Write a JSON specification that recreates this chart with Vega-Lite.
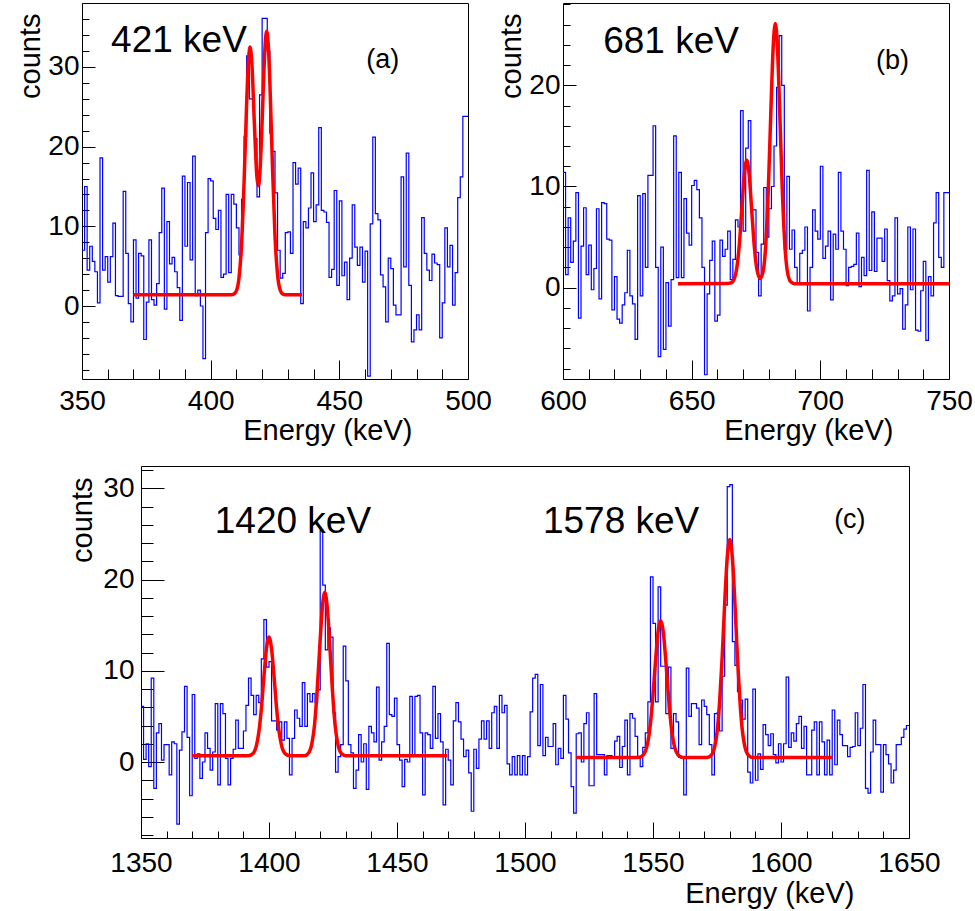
{
"$schema": "https://vega.github.io/schema/vega-lite/v6.json",
"background": "white",
"padding": {"left": 15, "top": 2, "right": 0, "bottom": 0},
"config": {
  "view": {"stroke": "black", "strokeWidth": 1},
  "axis": {"labelFont": "Liberation Sans", "titleFont": "Liberation Sans", "labelFontSize": 28, "titleFontSize": 29, "titleFontWeight": "normal", "labelColor": "black", "titleColor": "black", "tickColor": "black", "tickWidth": 1, "grid": false, "domain": false, "labelFlush": false, "labelOverlap": false, "format": "d"}
},
"datasets": {
  "ha": [{"e":350,"c":7},{"e":351,"c":15},{"e":352,"c":4.5},{"e":353,"c":7.5},{"e":354,"c":5.6},{"e":355,"c":4.3},{"e":356,"c":0.4},{"e":357,"c":18.6},{"e":358,"c":4.5},{"e":359,"c":6.2},{"e":360,"c":3},{"e":361,"c":6.2},{"e":362,"c":10.4},{"e":363,"c":1.3},{"e":364,"c":1.2},{"e":365,"c":1.2},{"e":366,"c":14.4},{"e":367,"c":6.6},{"e":368,"c":0.3},{"e":369,"c":-2},{"e":370,"c":8.3},{"e":371,"c":1},{"e":372,"c":6.6},{"e":373,"c":6.3},{"e":374,"c":-4.2},{"e":375,"c":0.5},{"e":376,"c":8.3},{"e":377,"c":0.8},{"e":378,"c":0.1},{"e":379,"c":2.8},{"e":380,"c":9.2},{"e":381,"c":14.8},{"e":382,"c":-0.4},{"e":383,"c":10.6},{"e":384,"c":5.3},{"e":385,"c":6.1},{"e":386,"c":4.3},{"e":387,"c":2.3},{"e":388,"c":-1.8},{"e":389,"c":16.3},{"e":390,"c":7.5},{"e":391,"c":15.5},{"e":392,"c":5.8},{"e":393,"c":18.8},{"e":394,"c":1.3},{"e":395,"c":2},{"e":396,"c":0},{"e":397,"c":-6.6},{"e":398,"c":9.2},{"e":399,"c":16},{"e":400,"c":15.7},{"e":401,"c":11},{"e":402,"c":9.6},{"e":403,"c":12},{"e":404,"c":3.6},{"e":405,"c":4},{"e":406,"c":14},{"e":407,"c":4.2},{"e":408,"c":14},{"e":409,"c":12.8},{"e":410,"c":9.8},{"e":411,"c":6.4},{"e":412,"c":13.4},{"e":413,"c":21.3},{"e":414,"c":31.4},{"e":415,"c":26},{"e":416,"c":26},{"e":417,"c":21},{"e":418,"c":13.7},{"e":419,"c":26.5},{"e":420,"c":36.1},{"e":421,"c":36.1},{"e":422,"c":32},{"e":423,"c":21.7},{"e":424,"c":19.4},{"e":425,"c":14.2},{"e":426,"c":7},{"e":427,"c":3.5},{"e":428,"c":4.1},{"e":429,"c":9.2},{"e":430,"c":9.3},{"e":431,"c":6.6},{"e":432,"c":18},{"e":433,"c":15.3},{"e":434,"c":17.3},{"e":435,"c":0.3},{"e":436,"c":10.6},{"e":437,"c":9.8},{"e":438,"c":12.3},{"e":439,"c":16.7},{"e":440,"c":10.6},{"e":441,"c":12.7},{"e":442,"c":22.4},{"e":443,"c":12},{"e":444,"c":11.8},{"e":445,"c":10.5},{"e":446,"c":3.6},{"e":447,"c":4.6},{"e":448,"c":14.5},{"e":449,"c":2.6},{"e":450,"c":13.2},{"e":451,"c":3.8},{"e":452,"c":5.5},{"e":453,"c":0.8},{"e":454,"c":6},{"e":455,"c":12.7},{"e":456,"c":7.4},{"e":457,"c":5.1},{"e":458,"c":7.4},{"e":459,"c":3},{"e":460,"c":6.9},{"e":461,"c":-8.8},{"e":462,"c":10.3},{"e":463,"c":21.2},{"e":464,"c":11.6},{"e":465,"c":10.8},{"e":466,"c":3.9},{"e":467,"c":2.4},{"e":468,"c":-2},{"e":469,"c":6},{"e":470,"c":4.7},{"e":471,"c":0.1},{"e":472,"c":-1.1},{"e":473,"c":-1.1},{"e":474,"c":16.2},{"e":475,"c":4.9},{"e":476,"c":19.2},{"e":477,"c":2.6},{"e":478,"c":-4.5},{"e":479,"c":-3},{"e":480,"c":-1.1},{"e":481,"c":-3},{"e":482,"c":11.1},{"e":483,"c":6.6},{"e":484,"c":4.5},{"e":485,"c":3.2},{"e":486,"c":6.5},{"e":487,"c":5.4},{"e":488,"c":5.2},{"e":489,"c":-4},{"e":490,"c":0.4},{"e":491,"c":9.8},{"e":492,"c":4.9},{"e":493,"c":7.6},{"e":494,"c":0.1},{"e":495,"c":4.2},{"e":496,"c":13.6},{"e":497,"c":16.2},{"e":498,"c":23.8},{"e":499,"c":23.8},{"e":500,"c":23.8}],
  "fa": [{"e":370,"c":1.4},{"e":408,"c":1.4},{"e":409,"c":1.5},{"e":410,"c":1.9},{"e":411,"c":3.5},{"e":412,"c":7.7},{"e":413,"c":15.7},{"e":414,"c":25.6},{"e":414.7,"c":30.8},{"e":415.3,"c":32.5},{"e":416,"c":30.5},{"e":417,"c":22.8},{"e":418,"c":16.1},{"e":418.6,"c":15.1},{"e":419.2,"c":17.1},{"e":420,"c":23.2},{"e":420.7,"c":29.5},{"e":421.2,"c":32.9},{"e":421.8,"c":34.5},{"e":422.4,"c":32.7},{"e":423,"c":28.1},{"e":424,"c":17.7},{"e":425,"c":8.8},{"e":426,"c":3.9},{"e":427,"c":2.0},{"e":428,"c":1.5},{"e":429,"c":1.4},{"e":435.5,"c":1.4}],
  "hb": [{"e":600,"c":11.4},{"e":601,"c":1.3},{"e":602,"c":6.9},{"e":603,"c":2.5},{"e":604,"c":4.6},{"e":605,"c":9.4},{"e":606,"c":-3},{"e":607,"c":4.1},{"e":608,"c":7.9},{"e":609,"c":1.3},{"e":610,"c":4.2},{"e":611,"c":-0.2},{"e":612,"c":1.9},{"e":613,"c":7.8},{"e":614,"c":-1.1},{"e":615,"c":8.4},{"e":616,"c":8.3},{"e":617,"c":4.8},{"e":618,"c":4.7},{"e":619,"c":-2.2},{"e":620,"c":1.1},{"e":621,"c":-3.1},{"e":622,"c":-3.5},{"e":623,"c":-1.7},{"e":624,"c":-0.5},{"e":625,"c":3.7},{"e":626,"c":-0.8},{"e":627,"c":-1.6},{"e":628,"c":-5.1},{"e":629,"c":9.1},{"e":630,"c":-0.8},{"e":631,"c":9.3},{"e":632,"c":2},{"e":633,"c":11.1},{"e":634,"c":11.1},{"e":635,"c":16},{"e":636,"c":2},{"e":637,"c":-6.8},{"e":638,"c":4},{"e":639,"c":-6.1},{"e":640,"c":0.5},{"e":641,"c":-3.8},{"e":642,"c":0.8},{"e":643,"c":15},{"e":644,"c":1},{"e":645,"c":11.4},{"e":646,"c":1},{"e":647,"c":8.8},{"e":648,"c":5.4},{"e":649,"c":4.2},{"e":650,"c":10.1},{"e":651,"c":10.6},{"e":652,"c":9.7},{"e":653,"c":6.9},{"e":654,"c":2},{"e":655,"c":-8.6},{"e":656,"c":-0.6},{"e":657,"c":2.7},{"e":658,"c":4.6},{"e":659,"c":-3.3},{"e":660,"c":-2.7},{"e":661,"c":4.7},{"e":662,"c":3.1},{"e":663,"c":3.8},{"e":664,"c":5.6},{"e":665,"c":0.8},{"e":666,"c":2.8},{"e":667,"c":6.7},{"e":668,"c":6},{"e":669,"c":17.5},{"e":670,"c":5.6},{"e":671,"c":13.8},{"e":672,"c":16.5},{"e":673,"c":7.7},{"e":674,"c":7.7},{"e":675,"c":3.5},{"e":676,"c":-0.8},{"e":677,"c":4.3},{"e":678,"c":9.9},{"e":679,"c":5},{"e":680,"c":7.8},{"e":681,"c":10},{"e":682,"c":14},{"e":683,"c":19.8},{"e":684,"c":24.9},{"e":685,"c":20},{"e":686,"c":3.8},{"e":687,"c":11},{"e":688,"c":3.8},{"e":689,"c":5.7},{"e":690,"c":2},{"e":691,"c":0.5},{"e":692,"c":3.4},{"e":693,"c":3.7},{"e":694,"c":6},{"e":695,"c":-2.3},{"e":696,"c":2},{"e":697,"c":7.7},{"e":698,"c":5.6},{"e":699,"c":4.8},{"e":700,"c":12},{"e":701,"c":2.9},{"e":702,"c":4.1},{"e":703,"c":5.6},{"e":704,"c":-1.2},{"e":705,"c":5.3},{"e":706,"c":3.8},{"e":707,"c":11.4},{"e":708,"c":5.6},{"e":709,"c":3.8},{"e":710,"c":0.2},{"e":711,"c":2},{"e":712,"c":2.1},{"e":713,"c":2.3},{"e":714,"c":5.4},{"e":715,"c":0.1},{"e":716,"c":3},{"e":717,"c":1.2},{"e":718,"c":11.6},{"e":719,"c":1.7},{"e":720,"c":7.5},{"e":721,"c":1.6},{"e":722,"c":4.9},{"e":723,"c":4.9},{"e":724,"c":2.6},{"e":725,"c":5.8},{"e":726,"c":0.7},{"e":727,"c":-1.3},{"e":728,"c":-0.8},{"e":729,"c":6.9},{"e":730,"c":-0.6},{"e":731,"c":-0.1},{"e":732,"c":-4.1},{"e":733,"c":-1.7},{"e":734,"c":6},{"e":735,"c":-0.2},{"e":736,"c":5.8},{"e":737,"c":-4.2},{"e":738,"c":-4.3},{"e":739,"c":-0.3},{"e":740,"c":2.6},{"e":741,"c":-5.2},{"e":742,"c":1.1},{"e":743,"c":-0.8},{"e":744,"c":6.4},{"e":745,"c":9.4},{"e":746,"c":3},{"e":747,"c":2},{"e":748,"c":9.4},{"e":749,"c":9.4},{"e":750,"c":9.4}],
  "fb": [{"e":644.7,"c":0.4},{"e":664,"c":0.41},{"e":665.5,"c":0.5},{"e":666.5,"c":0.84},{"e":667.5,"c":1.9},{"e":668.5,"c":4.2},{"e":669.5,"c":7.8},{"e":670.5,"c":11.3},{"e":671.4,"c":12.6},{"e":672.3,"c":11.3},{"e":673.3,"c":7.8},{"e":674.3,"c":4.2},{"e":675.3,"c":1.9},{"e":676.6,"c":0.9},{"e":677.8,"c":1.65},{"e":678.8,"c":4.3},{"e":679.8,"c":9.8},{"e":680.8,"c":17.6},{"e":681.7,"c":23.9},{"e":682.5,"c":26.1},{"e":683.3,"c":23.9},{"e":684.2,"c":17.6},{"e":685.2,"c":9.8},{"e":686.2,"c":4.3},{"e":687.2,"c":1.6},{"e":688.5,"c":0.58},{"e":690,"c":0.4},{"e":750,"c":0.4}],
  "hc": [{"e":1350,"c":6.1},{"e":1351,"c":0.3},{"e":1352,"c":2},{"e":1353,"c":-0.5},{"e":1354,"c":9.2},{"e":1355,"c":-2.9},{"e":1356,"c":3.2},{"e":1357,"c":4.2},{"e":1358,"c":0.2},{"e":1359,"c":1.9},{"e":1360,"c":1.9},{"e":1361,"c":-1.4},{"e":1362,"c":2.2},{"e":1363,"c":2},{"e":1364,"c":-6.8},{"e":1365,"c":1.3},{"e":1366,"c":3.3},{"e":1367,"c":8.3},{"e":1368,"c":2.7},{"e":1369,"c":-3.7},{"e":1370,"c":7.4},{"e":1371,"c":0.4},{"e":1372,"c":0.9},{"e":1373,"c":-1.8},{"e":1374,"c":0},{"e":1375,"c":3.2},{"e":1376,"c":1.5},{"e":1377,"c":-0.9},{"e":1378,"c":1.1},{"e":1379,"c":6.4},{"e":1380,"c":-2.5},{"e":1381,"c":6.4},{"e":1382,"c":5.3},{"e":1383,"c":0.4},{"e":1384,"c":-2.5},{"e":1385,"c":0.4},{"e":1386,"c":1.4},{"e":1387,"c":4.6},{"e":1388,"c":1.5},{"e":1389,"c":1.5},{"e":1390,"c":3.4},{"e":1391,"c":6.2},{"e":1392,"c":9.2},{"e":1393,"c":7.3},{"e":1394,"c":5.2},{"e":1395,"c":7.3},{"e":1396,"c":6.5},{"e":1397,"c":11.3},{"e":1398,"c":15.6},{"e":1399,"c":10.4},{"e":1400,"c":11},{"e":1401,"c":4.5},{"e":1402,"c":4.5},{"e":1403,"c":3.5},{"e":1404,"c":4.4},{"e":1405,"c":2.4},{"e":1406,"c":4.4},{"e":1407,"c":2.6},{"e":1408,"c":-1.4},{"e":1409,"c":2.6},{"e":1410,"c":5.7},{"e":1411,"c":4.8},{"e":1412,"c":3.9},{"e":1413,"c":8.7},{"e":1414,"c":3.9},{"e":1415,"c":7.5},{"e":1416,"c":6.6},{"e":1417,"c":7.5},{"e":1418,"c":6.5},{"e":1419,"c":7.9},{"e":1420,"c":25.4},{"e":1421,"c":19.4},{"e":1422,"c":12.3},{"e":1423,"c":14.7},{"e":1424,"c":13.7},{"e":1425,"c":5.4},{"e":1426,"c":-1.1},{"e":1427,"c":0.6},{"e":1428,"c":1.9},{"e":1429,"c":12.7},{"e":1430,"c":8.9},{"e":1431,"c":1.9},{"e":1432,"c":1},{"e":1433,"c":-2.9},{"e":1434,"c":-0.9},{"e":1435,"c":3},{"e":1436,"c":0},{"e":1437,"c":2},{"e":1438,"c":-3},{"e":1439,"c":3.9},{"e":1440,"c":3.2},{"e":1441,"c":2.2},{"e":1442,"c":8.2},{"e":1443,"c":0.2},{"e":1444,"c":2.2},{"e":1445,"c":3.9},{"e":1446,"c":13},{"e":1447,"c":5.2},{"e":1448,"c":5},{"e":1449,"c":7},{"e":1450,"c":1.9},{"e":1451,"c":0.2},{"e":1452,"c":-2.7},{"e":1453,"c":0.3},{"e":1454,"c":0},{"e":1455,"c":7.2},{"e":1456,"c":0.8},{"e":1457,"c":7.2},{"e":1458,"c":7.3},{"e":1459,"c":3.2},{"e":1460,"c":-3.6},{"e":1461,"c":3.2},{"e":1462,"c":3},{"e":1463,"c":1.5},{"e":1464,"c":8.3},{"e":1465,"c":2.6},{"e":1466,"c":5.3},{"e":1467,"c":2.2},{"e":1468,"c":-4.7},{"e":1469,"c":1.4},{"e":1470,"c":0.2},{"e":1471,"c":-2.5},{"e":1472,"c":4.5},{"e":1473,"c":6.5},{"e":1474,"c":4.4},{"e":1475,"c":2.5},{"e":1476,"c":0.6},{"e":1477,"c":1.3},{"e":1478,"c":-1.2},{"e":1479,"c":-5.4},{"e":1480,"c":1.4},{"e":1481,"c":-0.7},{"e":1482,"c":2.5},{"e":1483,"c":4.5},{"e":1484,"c":2.5},{"e":1485,"c":4.5},{"e":1486,"c":1.5},{"e":1487,"c":5.4},{"e":1488,"c":6.1},{"e":1489,"c":1.5},{"e":1490,"c":7.3},{"e":1491,"c":5.4},{"e":1492,"c":6.2},{"e":1493,"c":-0.2},{"e":1494,"c":-1.4},{"e":1495,"c":0.6},{"e":1496,"c":-1.4},{"e":1497,"c":0.7},{"e":1498,"c":-1.4},{"e":1499,"c":0.7},{"e":1500,"c":-1.4},{"e":1501,"c":0.6},{"e":1502,"c":5.5},{"e":1503,"c":9.2},{"e":1504,"c":9.6},{"e":1505,"c":1.8},{"e":1506,"c":8.5},{"e":1507,"c":0.7},{"e":1508,"c":2.7},{"e":1509,"c":1.7},{"e":1510,"c":1.7},{"e":1511,"c":4.2},{"e":1512,"c":-0.3},{"e":1513,"c":1.5},{"e":1514,"c":0.4},{"e":1515,"c":7.3},{"e":1516,"c":4.7},{"e":1517,"c":1},{"e":1518,"c":-2.7},{"e":1519,"c":-5.6},{"e":1520,"c":3.1},{"e":1521,"c":3.2},{"e":1522,"c":0},{"e":1523,"c":4.2},{"e":1524,"c":5.4},{"e":1525,"c":-2.6},{"e":1526,"c":-2.6},{"e":1527,"c":7.5},{"e":1528,"c":0.8},{"e":1529,"c":0.8},{"e":1530,"c":0.8},{"e":1531,"c":-1.4},{"e":1532,"c":0.7},{"e":1533,"c":0.7},{"e":1534,"c":0.6},{"e":1535,"c":2.3},{"e":1536,"c":2.8},{"e":1537,"c":-0.6},{"e":1538,"c":1.7},{"e":1539,"c":4.6},{"e":1540,"c":-1.4},{"e":1541,"c":5.3},{"e":1542,"c":4.8},{"e":1543,"c":2.8},{"e":1544,"c":0.6},{"e":1545,"c":-0.5},{"e":1546,"c":1.6},{"e":1547,"c":3.2},{"e":1548,"c":6.6},{"e":1549,"c":20.3},{"e":1550,"c":15.2},{"e":1551,"c":6.6},{"e":1552,"c":19.2},{"e":1553,"c":10.5},{"e":1554,"c":10.5},{"e":1555,"c":5.3},{"e":1556,"c":10.4},{"e":1557,"c":1.5},{"e":1558,"c":5.3},{"e":1559,"c":4.4},{"e":1560,"c":0.5},{"e":1561,"c":0.4},{"e":1562,"c":-3.6},{"e":1563,"c":10.3},{"e":1564,"c":5},{"e":1565,"c":6.4},{"e":1566,"c":6.4},{"e":1567,"c":5.9},{"e":1568,"c":1.9},{"e":1569,"c":6.8},{"e":1570,"c":6.1},{"e":1571,"c":5.2},{"e":1572,"c":1.9},{"e":1573,"c":-1.4},{"e":1574,"c":5.3},{"e":1575,"c":5.4},{"e":1576,"c":3.4},{"e":1577,"c":9.4},{"e":1578,"c":17.2},{"e":1579,"c":30.2},{"e":1580,"c":30.4},{"e":1581,"c":13.2},{"e":1582,"c":10.6},{"e":1583,"c":7.7},{"e":1584,"c":6.8},{"e":1585,"c":4.7},{"e":1586,"c":6.9},{"e":1587,"c":-1.1},{"e":1588,"c":-2.3},{"e":1589,"c":8},{"e":1590,"c":-2},{"e":1591,"c":0.9},{"e":1592,"c":-0.8},{"e":1593,"c":4.1},{"e":1594,"c":3},{"e":1595,"c":1.8},{"e":1596,"c":3.1},{"e":1597,"c":0.8},{"e":1598,"c":-0.1},{"e":1599,"c":2},{"e":1600,"c":0},{"e":1601,"c":2},{"e":1602,"c":9.3},{"e":1603,"c":1.6},{"e":1604,"c":3.2},{"e":1605,"c":2.3},{"e":1606,"c":4.2},{"e":1607,"c":5},{"e":1608,"c":1.5},{"e":1609,"c":3.9},{"e":1610,"c":-1.4},{"e":1611,"c":-1.4},{"e":1612,"c":3.5},{"e":1613,"c":4.4},{"e":1614,"c":-1.4},{"e":1615,"c":4.4},{"e":1616,"c":2.2},{"e":1617,"c":-1.4},{"e":1618,"c":2.4},{"e":1619,"c":-1.4},{"e":1620,"c":5.7},{"e":1621,"c":-0.3},{"e":1622,"c":4.6},{"e":1623,"c":3},{"e":1624,"c":1.8},{"e":1625,"c":1.8},{"e":1626,"c":0.6},{"e":1627,"c":1.6},{"e":1628,"c":1.7},{"e":1629,"c":5.4},{"e":1630,"c":1.8},{"e":1631,"c":3.7},{"e":1632,"c":8.5},{"e":1633,"c":-2.9},{"e":1634,"c":-3.4},{"e":1635,"c":1.1},{"e":1636,"c":4.6},{"e":1637,"c":1.9},{"e":1638,"c":1.9},{"e":1639,"c":-3.3},{"e":1640,"c":1.9},{"e":1641,"c":0.8},{"e":1642,"c":-0.2},{"e":1643,"c":-2.3},{"e":1644,"c":-0.9},{"e":1645,"c":1.9},{"e":1646,"c":1.9},{"e":1647,"c":2.7},{"e":1648,"c":3.6},{"e":1649,"c":4},{"e":1650,"c":4}],
  "fc": [{"g":1,"e":1370,"c":0.7},{"g":1,"e":1392,"c":0.7},{"g":1,"e":1393.5,"c":0.87},{"g":1,"e":1395,"c":1.7},{"g":1,"e":1396,"c":3.2},{"g":1,"e":1397,"c":5.8},{"g":1,"e":1398,"c":9.3},{"g":1,"e":1399,"c":12.4},{"g":1,"e":1400,"c":13.7},{"g":1,"e":1401,"c":12.4},{"g":1,"e":1402,"c":9.3},{"g":1,"e":1403,"c":5.8},{"g":1,"e":1404,"c":3.2},{"g":1,"e":1405,"c":1.7},{"g":1,"e":1406.5,"c":0.87},{"g":1,"e":1408,"c":0.7},{"g":1,"e":1414,"c":0.7},{"g":1,"e":1415.3,"c":0.93},{"g":1,"e":1416.8,"c":2.1},{"g":1,"e":1417.8,"c":4.1},{"g":1,"e":1418.8,"c":7.8},{"g":1,"e":1419.8,"c":12.5},{"g":1,"e":1420.8,"c":16.8},{"g":1,"e":1421.8,"c":18.6},{"g":1,"e":1422.8,"c":16.8},{"g":1,"e":1423.8,"c":12.5},{"g":1,"e":1424.8,"c":7.8},{"g":1,"e":1425.8,"c":4.1},{"g":1,"e":1426.8,"c":2.1},{"g":1,"e":1428.3,"c":0.93},{"g":1,"e":1430,"c":0.7},{"g":1,"e":1469.6,"c":0.7},
         {"g":2,"e":1520,"c":0.5},{"g":2,"e":1544,"c":0.5},{"g":2,"e":1545.5,"c":0.61},{"g":2,"e":1547,"c":1.16},{"g":2,"e":1548,"c":2.2},{"g":2,"e":1549,"c":4.2},{"g":2,"e":1550,"c":7.4},{"g":2,"e":1551,"c":11.1},{"g":2,"e":1552,"c":14.3},{"g":2,"e":1553,"c":15.5},{"g":2,"e":1554,"c":14.3},{"g":2,"e":1555,"c":11.1},{"g":2,"e":1556,"c":7.4},{"g":2,"e":1557,"c":4.2},{"g":2,"e":1558,"c":2.2},{"g":2,"e":1559,"c":1.16},{"g":2,"e":1560.5,"c":0.61},{"g":2,"e":1562,"c":0.5},{"g":2,"e":1571,"c":0.5},{"g":2,"e":1572.5,"c":0.68},{"g":2,"e":1574,"c":1.55},{"g":2,"e":1575,"c":3.2},{"g":2,"e":1576,"c":6.5},{"g":2,"e":1577,"c":11.4},{"g":2,"e":1578,"c":17.4},{"g":2,"e":1579,"c":22.4},{"g":2,"e":1580,"c":24.4},{"g":2,"e":1581,"c":22.4},{"g":2,"e":1582,"c":17.4},{"g":2,"e":1583,"c":11.4},{"g":2,"e":1584,"c":6.5},{"g":2,"e":1585,"c":3.2},{"g":2,"e":1586,"c":1.55},{"g":2,"e":1587.5,"c":0.68},{"g":2,"e":1589,"c":0.5},{"g":2,"e":1620,"c":0.5}],
  "ta1": [{"e":361.3,"c":31.9,"t":"421 keV"}],
  "ta2": [{"e":466.9,"c":29.9,"t":"(a)"}],
  "tb1": [{"e":615.6,"c":23.2,"t":"681 keV"}],
  "tb2": [{"e":728,"c":21.6,"t":"(b)"}],
  "tc1": [{"e":1378.8,"c":25.1,"t":"1420 keV"},{"e":1507,"c":25.1,"t":"1578 keV"}],
  "tc2": [{"e":1626.9,"c":25.7,"t":"(c)"}]
},
"spacing": 14,
"vconcat": [
 {"hconcat": [
  {"width": 386, "height": 376,
   "layer": [
    {"data": {"name": "ha"}, "mark": {"type": "line", "interpolate": "step-after", "color": "#0000ff", "strokeWidth": 1.2},
     "encoding": {
      "x": {"field": "e", "type": "quantitative", "scale": {"domain": [350, 500], "nice": false, "zero": false},
            "axis": {"orient": "bottom", "values": [350, 400, 450, 500], "tickSize": -19, "labelPadding": 27, "title": "Energy (keV)", "titleX": 330, "titleY": 60, "titleAlign": "right", "titleBaseline": "alphabetic"}},
      "y": {"field": "c", "type": "quantitative", "scale": {"domain": [-9.16, 38.03], "nice": false, "zero": false},
            "axis": {"orient": "left", "values": [0, 10, 20, 30], "tickSize": -13, "labelPadding": 16, "title": "counts", "titleX": -43, "titleY": 10, "titleAngle": 270, "titleAlign": "right", "titleBaseline": "alphabetic"}}
     }},
    {"data": {"name": "fa"}, "mark": {"type": "line", "interpolate": "monotone", "color": "#ff0000", "strokeWidth": 3.5},
     "encoding": {
      "x": {"field": "e", "type": "quantitative", "axis": {"orient": "bottom", "values": [360,370,380,390,410,420,430,440,460,470,480,490], "tickSize": -10, "labels": false, "title": null}},
      "y": {"field": "c", "type": "quantitative", "axis": {"orient": "left", "values": [-8,-6,-4,-2,2,4,6,8,12,14,16,18,22,24,26,28,32,34,36,38], "tickSize": -7, "labels": false, "title": null}}
     }},
    {"data": {"name": "ta1"}, "mark": {"type": "text", "font": "Liberation Sans", "fontSize": 37, "align": "left", "baseline": "alphabetic", "color": "black"},
     "encoding": {"x": {"field": "e", "type": "quantitative", "axis": null}, "y": {"field": "c", "type": "quantitative", "axis": null}, "text": {"field": "t"}}},
    {"data": {"name": "ta2"}, "mark": {"type": "text", "font": "Liberation Sans", "fontSize": 27, "align": "center", "baseline": "alphabetic", "color": "black"},
     "encoding": {"x": {"field": "e", "type": "quantitative", "axis": null}, "y": {"field": "c", "type": "quantitative", "axis": null}, "text": {"field": "t"}}}
   ],
   "resolve": {"axis": {"x": "independent", "y": "independent"}}
  },
  {"width": 386, "height": 376,
   "layer": [
    {"data": {"name": "hb"}, "mark": {"type": "line", "interpolate": "step-after", "color": "#0000ff", "strokeWidth": 1.2},
     "encoding": {
      "x": {"field": "e", "type": "quantitative", "scale": {"domain": [600, 750], "nice": false, "zero": false},
            "axis": {"orient": "bottom", "values": [600, 650, 700, 750], "tickSize": -19, "labelPadding": 27, "title": "Energy (keV)", "titleX": 330, "titleY": 60, "titleAlign": "right", "titleBaseline": "alphabetic"}},
      "y": {"field": "c", "type": "quantitative", "scale": {"domain": [-9.02, 28.13], "nice": false, "zero": false},
            "axis": {"orient": "left", "values": [0, 10, 20], "tickSize": -13, "labelPadding": 16, "title": "counts", "titleX": -43, "titleY": 10, "titleAngle": 270, "titleAlign": "right", "titleBaseline": "alphabetic"}}
     }},
    {"data": {"name": "fb"}, "mark": {"type": "line", "interpolate": "monotone", "color": "#ff0000", "strokeWidth": 3.5},
     "encoding": {
      "x": {"field": "e", "type": "quantitative", "axis": {"orient": "bottom", "values": [610,620,630,640,660,670,680,690,710,720,730,740], "tickSize": -10, "labels": false, "title": null}},
      "y": {"field": "c", "type": "quantitative", "axis": {"orient": "left", "values": [-8,-6,-4,-2,2,4,6,8,12,14,16,18,22,24,26,28], "tickSize": -7, "labels": false, "title": null}}
     }},
    {"data": {"name": "tb1"}, "mark": {"type": "text", "font": "Liberation Sans", "fontSize": 37, "align": "left", "baseline": "alphabetic", "color": "black"},
     "encoding": {"x": {"field": "e", "type": "quantitative", "axis": null}, "y": {"field": "c", "type": "quantitative", "axis": null}, "text": {"field": "t"}}},
    {"data": {"name": "tb2"}, "mark": {"type": "text", "font": "Liberation Sans", "fontSize": 27, "align": "center", "baseline": "alphabetic", "color": "black"},
     "encoding": {"x": {"field": "e", "type": "quantitative", "axis": null}, "y": {"field": "c", "type": "quantitative", "axis": null}, "text": {"field": "t"}}}
   ],
   "resolve": {"axis": {"x": "independent", "y": "independent"}}
  }
 ], "spacing": 4},
 {"concat": [
  {"width": 1, "height": 1, "data": {"values": [{"t": ""}]}, "mark": {"type": "text"}, "encoding": {"text": {"field": "t"}}, "view": {"stroke": null, "fill": "white"}},
  {"width": 768, "height": 372,
   "layer": [
    {"data": {"name": "hc"}, "mark": {"type": "line", "interpolate": "step-after", "color": "#0000ff", "strokeWidth": 1.2},
     "encoding": {
      "x": {"field": "e", "type": "quantitative", "scale": {"domain": [1350, 1650], "nice": false, "zero": false},
            "axis": {"orient": "bottom", "values": [1350, 1400, 1450, 1500, 1550, 1600, 1650], "tickSize": -16, "labelPadding": 27, "title": "Energy (keV)", "titleX": 713, "titleY": 64, "titleAlign": "right", "titleBaseline": "alphabetic"}},
      "y": {"field": "c", "type": "quantitative", "scale": {"domain": [-8.33, 32.45], "nice": false, "zero": false},
            "axis": {"orient": "left", "values": [0, 10, 20, 30], "tickSize": -23, "labelPadding": 30, "title": "counts", "titleX": -50, "titleY": 11, "titleAngle": 270, "titleAlign": "right", "titleBaseline": "alphabetic"}}
     }},
    {"data": {"name": "fc"}, "mark": {"type": "line", "interpolate": "monotone", "color": "#ff0000", "strokeWidth": 3.5},
     "encoding": {
      "detail": {"field": "g", "type": "nominal"},
      "x": {"field": "e", "type": "quantitative", "axis": {"orient": "bottom", "values": [1360,1370,1380,1390,1410,1420,1430,1440,1460,1470,1480,1490,1510,1520,1530,1540,1560,1570,1580,1590,1610,1620,1630,1640], "tickSize": -7, "labels": false, "title": null}},
      "y": {"field": "c", "type": "quantitative", "axis": {"orient": "left", "values": [-8,-6,-4,-2,2,4,6,8,12,14,16,18,22,24,26,28,32], "tickSize": -12, "labels": false, "title": null}}
     }},
    {"data": {"name": "tc1"}, "mark": {"type": "text", "font": "Liberation Sans", "fontSize": 37, "align": "left", "baseline": "alphabetic", "color": "black"},
     "encoding": {"x": {"field": "e", "type": "quantitative", "axis": null}, "y": {"field": "c", "type": "quantitative", "axis": null}, "text": {"field": "t"}}},
    {"data": {"name": "tc2"}, "mark": {"type": "text", "font": "Liberation Sans", "fontSize": 27, "align": "center", "baseline": "alphabetic", "color": "black"},
     "encoding": {"x": {"field": "e", "type": "quantitative", "axis": null}, "y": {"field": "c", "type": "quantitative", "axis": null}, "text": {"field": "t"}}}
   ],
   "resolve": {"axis": {"x": "independent", "y": "independent"}}
  }
 ], "columns": 2, "spacing": -16, "align": "none"}
]
}
